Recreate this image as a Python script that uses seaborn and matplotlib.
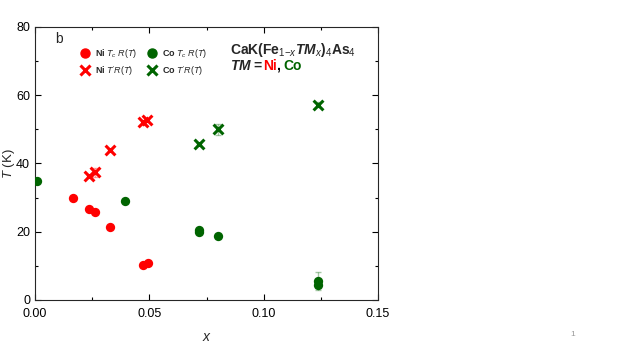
import matplotlib
matplotlib.use("Agg")
import matplotlib.pyplot as plt
import seaborn as sns
import pandas as pd
from matplotlib.lines import Line2D
from matplotlib.ticker import MultipleLocator

# ---- data ----
ni_tc_x = [0.0166, 0.0236, 0.0262, 0.0328, 0.0472, 0.0493]
ni_tc_y = [30.0, 26.7, 25.9, 21.3, 10.2, 10.9]
ni_tc_err = [0.3, 0.3, 0.3, 0.3, 0.3, 0.3]

ni_tp_x = [0.0237, 0.0263, 0.0328, 0.0473, 0.0490]
ni_tp_y = [36.2, 37.4, 43.9, 52.0, 52.6]
ni_tp_err = [0.3, 1.3, 0.3, 0.8, 0.5]

co_tc_x = [0.0010, 0.0394, 0.0716, 0.0716, 0.0800, 0.1237, 0.1237]
co_tc_y = [35.0, 29.1, 19.8, 20.4, 18.6, 5.6, 4.4]
co_tc_err = [0.3, 0.3, 0.5, 0.5, 0.3, 2.6, 1.0]

co_tp_x = [0.0717, 0.0802, 0.1237]
co_tp_y = [45.8, 50.0, 57.2]
co_tp_err = [0.3, 1.6, 0.8]

x_ticks = [0, 0.05, 0.10, 0.15]
x_ticklabels = ["0.00", "0.05", "0.10", "0.15"]

RED = "#ff0000"
GREEN = "#006400"

sns.set_style("ticks")
plt.rcParams["font.family"] = ["Liberation Sans", "DejaVu Sans"]
plt.rcParams["mathtext.fontset"] = "custom"
plt.rcParams["mathtext.rm"] = "Liberation Sans"
plt.rcParams["mathtext.it"] = "Liberation Sans:italic"
plt.rcParams["mathtext.bf"] = "Liberation Sans:bold"
plt.rcParams["mathtext.bfit"] = "Liberation Sans:italic:bold"

fig = plt.figure(figsize=(6.23, 3.5), dpi=100)
ax = fig.add_axes([0.0562, 0.143, 0.5506, 0.78])

def draw(xs, ys, errs, color, marker, size, lw):
    df = pd.DataFrame({"x": xs, "y": ys})
    ax.errorbar(xs, ys, yerr=errs, fmt="none", ecolor=color, alpha=0.35,
                elinewidth=1, capsize=2, zorder=2)
    sns.scatterplot(data=df, x="x", y="y", ax=ax, color=color, marker=marker,
                    s=size, linewidth=lw, edgecolor=color if marker == "o" else None,
                    zorder=3, legend=False)

draw(ni_tc_x, ni_tc_y, ni_tc_err, RED, "o", 45, 0)
draw(co_tc_x, co_tc_y, co_tc_err, GREEN, "o", 45, 0)
draw(ni_tp_x, ni_tp_y, ni_tp_err, RED, "x", 50, 2.2)
draw(co_tp_x, co_tp_y, co_tp_err, GREEN, "x", 50, 2.2)

ax.set_xlim(0, 0.15)
ax.set_ylim(0, 80)
ax.xaxis.set_minor_locator(MultipleLocator(0.025))
ax.yaxis.set_major_locator(MultipleLocator(20))
ax.yaxis.set_minor_locator(MultipleLocator(10))
ax.set_xticks(x_ticks)
ax.set_xticklabels(x_ticklabels)
ax.tick_params(which="both", direction="in", top=True, right=True, labelsize=9,
               width=0.8, colors="black")
ax.tick_params(which="major", length=4)
ax.tick_params(which="minor", length=2.5)
ax.tick_params(axis="x", pad=6)
for sp in ax.spines.values():
    sp.set_linewidth(0.8)

ax.set_xlabel(r"$x$", fontsize=10)
ax.xaxis.set_label_coords(0.5, -0.11)
ax.set_ylabel(r"$T$ (K)", fontsize=9.5)
ax.yaxis.set_label_coords(-0.052, 0.5)

handles = [
    Line2D([], [], marker="o", ls="none", color=RED, markersize=6.5, label=r"Ni $T_c$ $R(T)$"),
    Line2D([], [], marker="x", ls="none", color=RED, markersize=7, mew=2.2, label=r"Ni $T'$$R(T)$"),
    Line2D([], [], marker="o", ls="none", color=GREEN, markersize=6.5, label=r"Co $T_c$ $R(T)$"),
    Line2D([], [], marker="x", ls="none", color=GREEN, markersize=7, mew=2.2, label=r"Co $T'$$R(T)$"),
]
ax.legend(handles=handles, ncol=2, frameon=False, prop={"size": 6.5, "weight": "bold"},
          loc="upper left", bbox_to_anchor=(0.105, 0.957),
          handletextpad=0.5, columnspacing=1.1, labelspacing=0.45, handlelength=1.2)

ax.text(0.058, 0.982, "b", transform=ax.transAxes, fontsize=10, va="top", ha="left")
ax.text(0.5685, 0.9, r"CaK(Fe$_{1\mathrm{-}x}\mathbfit{TM}_{x}$)$_{4}$As$_{4}$",
        transform=ax.transAxes, fontsize=10, fontweight="bold", ha="left", va="baseline")
ax.text(0.5685, 0.843, r"$\mathbfit{TM}$ = ", transform=ax.transAxes, fontsize=10,
        fontweight="bold", ha="left", va="baseline")
ax.text(0.665, 0.843, "Ni", transform=ax.transAxes, fontsize=10, fontweight="bold",
        color=RED, ha="left", va="baseline")
ax.text(0.703, 0.843, ",", transform=ax.transAxes, fontsize=10, fontweight="bold",
        color="black", ha="left", va="baseline")
ax.text(0.723, 0.843, "Co", transform=ax.transAxes, fontsize=10, fontweight="bold",
        color=GREEN, ha="left", va="baseline")

fig.text(573 / 623, 1 - 335 / 350, "1", fontsize=6, color="#999999", ha="center", va="center")

fig.savefig("out.png", dpi=100)
